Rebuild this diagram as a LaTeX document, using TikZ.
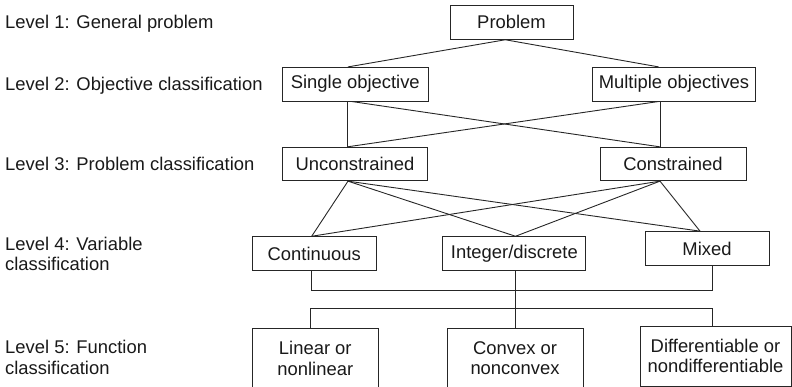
\documentclass[tikz,border=0pt]{standalone}
\usepackage{fontspec}
\setmainfont{Liberation Sans}
\begin{document}
\begin{tikzpicture}[x=1pt,y=-1pt,
  box/.style={draw=black!85, line width=0.9pt, inner sep=0pt, align=center, text=black!90,
    font=\fontsize{18.4}{20.5}\selectfont},
  lvl/.style={anchor=base west, inner sep=0pt, text=black!90, font=\fontsize{18.4}{20.7}\selectfont},
  link/.style={draw=black!85, line width=0.9pt}]
\useasboundingbox (0,0) rectangle (792,386);
\clip (0,0) rectangle (792,386);
% level labels
\node[lvl] (l1) at (5,28.3) {Level 1: General problem};
\node[lvl] (l2) at (5,90.7) {Level 2: Objective classification};
\node[lvl] (l3) at (5,170.7) {Level 3: Problem classification};
\node[lvl] (l4) at (5,250) {\begin{tabular}[t]{@{}l@{}}Level 4: Variable\\classification\end{tabular}};
\node[lvl] (l5) at (5,353.3) {\begin{tabular}[t]{@{}l@{}}Level 5: Function\\classification\end{tabular}};
% boxes
\node[box, minimum width=123pt, minimum height=34pt] (prob) at (511.5,22.3) {Problem};
\node[box, minimum width=146pt, minimum height=33.7pt] (so) at (355.3,84.2) {Single objective};
\node[box, minimum width=163pt, minimum height=33.7pt] (mo) at (674,84.2) {Multiple objectives};
\node[box, minimum width=145.4pt, minimum height=33.4pt] (unc) at (355,164) {Unconstrained};
\node[box, minimum width=146pt, minimum height=33.4pt] (con) at (673,164) {Constrained};
\node[box, minimum width=123.7pt, minimum height=34pt] (cont) at (314.2,253.7) {Continuous};
\node[box, minimum width=143pt, minimum height=34pt] (int) at (514.4,253.7) {Integer/discrete};
\node[box, minimum width=124pt, minimum height=34pt] (mix) at (707,248.6) {Mixed};
\node[box, minimum width=126pt, minimum height=60pt] (lin) at (315.3,358.3) {Linear or\\nonlinear};
\node[box, minimum width=136pt, minimum height=60pt] (cvx) at (515,358.3) {Convex or\\nonconvex};
\node[box, minimum width=151pt, minimum height=60pt] (dif) at (715.5,356) {Differentiable or\\nondifferentiable};
% level 1 -> 2
\draw[link] ([xshift=-7.3]so.north) -- ([xshift=-6.2]prob.south) -- ([xshift=-15.4]mo.north);
% level 2 -> 3
\draw[link] ([xshift=-8]so.south) -- ([xshift=-7.7]unc.north);
\draw[link] ([xshift=-14]mo.south) -- ([xshift=-13]con.north);
\draw[link] ([xshift=-3.6]so.south) -- ([xshift=-13]con.north);
\draw[link] ([xshift=-15.4]mo.south) -- ([xshift=-7.7]unc.north);
% level 3 -> 4
\coordinate (ub) at ([xshift=-7]unc.south);
\coordinate (cb) at ([xshift=-13]con.south);
\coordinate (ct) at ([xshift=-2.5]cont.north);
\coordinate (it) at ([xshift=1.1]int.north);
\coordinate (mt) at ([xshift=-7]mix.north);
\draw[link] (ub) -- (ct);
\draw[link] (ub) -- (it);
\draw[link] (ub) -- (mt);
\draw[link] (cb) -- (ct);
\draw[link] (cb) -- (it);
\draw[link] (cb) -- (mt);
% level 4 -> 5
\coordinate (bus1) at (0,290.7);
\coordinate (bus2) at (0,308.3);
\coordinate (contb) at ([xshift=-2.5]cont.south);
\coordinate (intb) at ([xshift=1.1]int.south);
\coordinate (mixb) at ([xshift=5]mix.south);
\coordinate (lint) at ([xshift=-4.6]lin.north);
\coordinate (cvxt) at ([xshift=0.5]cvx.north);
\coordinate (dift) at ([xshift=-3.5]dif.north);
\draw[link] (contb) -- (contb |- bus1) -- (mixb |- bus1) -- (mixb);
\draw[link] (intb) -- (cvxt);
\draw[link] (lint) -- (lint |- bus2) -- (dift |- bus2) -- (dift);
\end{tikzpicture}
\end{document}
